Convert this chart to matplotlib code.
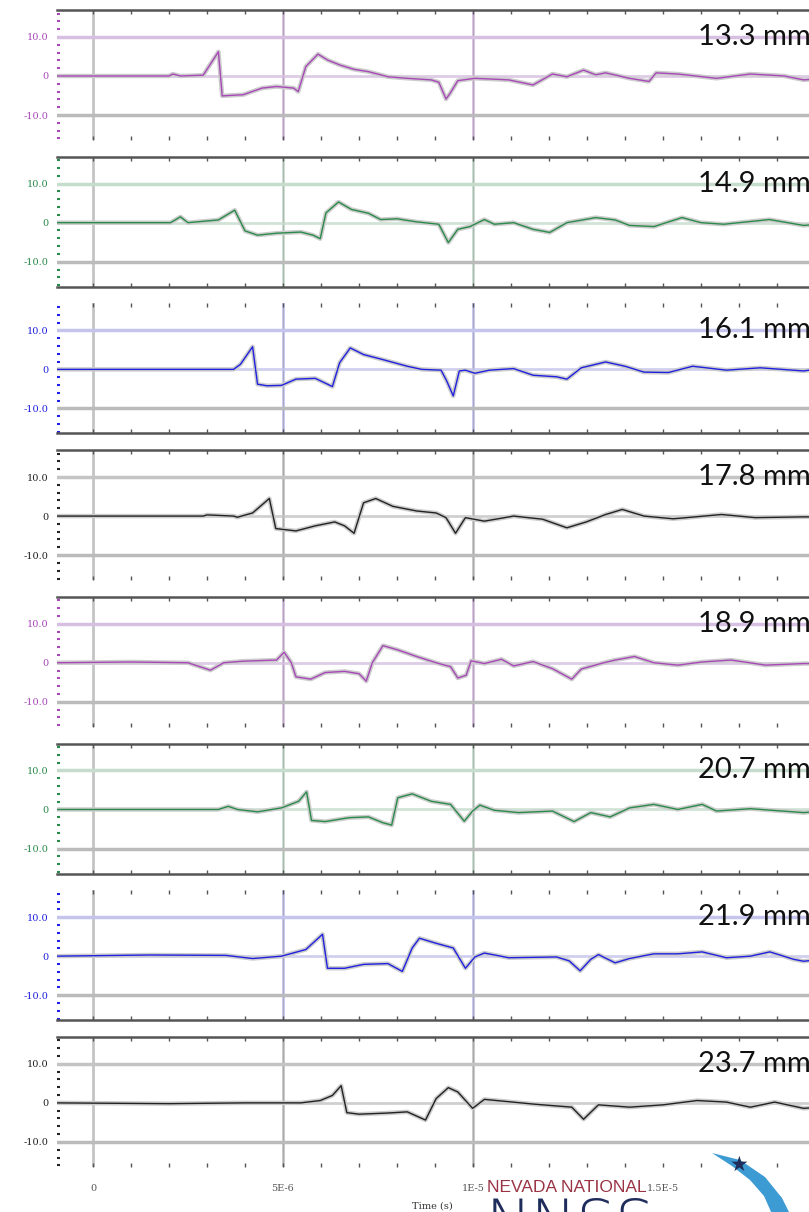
import numpy as np
import matplotlib.pyplot as plt
from matplotlib.patches import Polygon

# time in microseconds, signal in arbitrary units
labels = ['13.3 mm', '14.9 mm', '16.1 mm', '17.8 mm', '18.9 mm', '20.7 mm', '21.9 mm', '23.7 mm']

t1 = [-1.0, 2.0, 2.1, 2.3, 2.9, 3.3, 3.4, 3.95, 4.45, 4.83, 5.28, 5.4, 5.6, 5.92, 6.17, 6.5, 6.87, 7.25, 7.76,
      8.27, 8.9, 9.1, 9.29, 9.4, 9.6, 10.05, 10.94, 11.58, 12.09, 12.47, 12.91, 13.23, 13.49, 14.12, 14.63,
      14.82, 15.39, 16.41, 17.3, 18.19, 18.7, 19.0]
v1 = [0.0, 0.0, 0.5, 0.0, 0.2, 6.2, -5.1, -4.8, -3.1, -2.7, -3.1, -4.0, 2.4, 5.6, 4.1, 2.8, 1.7, 1.1, -0.2,
      -0.6, -1.0, -1.6, -5.9, -4.4, -1.2, -0.6, -1.0, -2.3, 0.5, -0.2, 1.5, 0.3, 0.8, -0.6, -1.4,
      0.8, 0.5, -0.6, 0.5, 0.0, -1.0, -0.8]

t2 = [-1.0, 2.04, 2.3, 2.5, 3.3, 3.73, 4.0, 4.33, 4.83, 5.47, 5.79, 5.98, 6.13, 6.46, 6.8, 7.25, 7.57, 8.0,
      8.52, 9.1, 9.35, 9.6, 9.92, 10.3, 10.56, 11.07, 11.58, 12.02, 12.47, 13.23, 13.74, 14.12, 14.76, 15.5,
      16.0, 16.6, 17.8, 18.7, 19.0]
v2 = [0.0, 0.0, 1.5, 0.0, 0.7, 3.2, -2.1, -3.2, -2.7, -2.4, -3.2, -4.1, 2.5, 5.3, 3.4, 2.4, 0.8, 1.0,
      0.2, -0.4, -5.1, -1.7, -1.0, 0.8, -0.4, 0.0, -1.7, -2.5, 0.0, 1.3, 0.7, -0.7, -1.0, 1.3,
      0.0, -0.4, 0.8, -0.7, -0.5]

t3 = [-1.0, 3.7, 3.88, 4.2, 4.33, 4.58, 4.96, 5.34, 5.85, 6.3, 6.49, 6.77, 7.12, 7.63, 8.27, 8.65, 9.16,
      9.31, 9.48, 9.64, 9.8, 10.05, 10.43, 11.07, 11.58, 12.2, 12.47, 12.85, 13.49, 14.0, 14.5, 15.14,
      15.78, 16.67, 17.56, 18.7, 19.0]
v3 = [0.0, 0.0, 1.3, 5.8, -3.8, -4.2, -4.1, -2.5, -2.3, -4.4, 1.7, 5.5, 3.8, 2.5, 0.8, 0.0, -0.2,
      -3.0, -6.8, -0.4, -0.2, -1.0, -0.2, 0.2, -1.5, -1.9, -2.5, 0.4, 1.9, 0.8, -0.7, -0.8,
      0.8, -0.2, 0.4, -0.4, 0.0]

t4 = [-1.0, 2.9, 3.0, 3.7, 3.8, 4.2, 4.64, 4.81, 5.34, 5.85, 6.36, 6.62, 6.87, 7.12, 7.44, 7.89, 8.52,
      9.03, 9.29, 9.54, 9.8, 10.3, 11.07, 11.83, 12.47, 12.98, 13.49, 13.93, 14.5, 15.27, 16.54, 17.43,
      18.7, 19.0]
v4 = [0.0, 0.0, 0.3, 0.0, -0.3, 0.8, 4.5, -3.2, -3.8, -2.5, -1.5, -2.5, -4.4, 3.4, 4.5, 2.5, 1.3,
      0.8, -0.4, -4.4, -0.4, -1.3, 0.0, -0.8, -3.0, -1.5, 0.4, 1.7, 0.0, -0.7, 0.4, -0.4,
      -0.2, -0.2]

t5 = [-1.0, 1.0, 2.5, 3.09, 3.44, 3.94, 4.83, 5.03, 5.22, 5.34, 5.73, 6.11, 6.62, 7.0, 7.19, 7.35, 7.63,
      8.02, 8.52, 9.03, 9.41, 9.6, 9.82, 9.95, 10.3, 10.75, 11.07, 11.58, 12.09, 12.6, 12.85, 13.36, 13.74,
      14.25, 14.76, 15.39, 16.03, 16.79, 17.7, 18.7, 19.0]
v5 = [0.0, 0.2, 0.0, -1.9, 0.0, 0.4, 0.7, 2.7, 0.0, -3.6, -4.2, -2.5, -2.2, -2.8, -4.7, 0.0, 4.4,
      3.3, 1.6, 0.0, -1.0, -3.9, -3.2, 0.5, -0.2, 0.9, -0.8, 0.3, -1.5, -4.2, -1.6, -0.2, 0.7,
      1.6, 0.0, -0.6, 0.2, 0.7, -0.6, -0.2, -0.2]

t6 = [-1.0, 3.3, 3.56, 3.8, 4.33, 4.96, 5.41, 5.62, 5.75, 6.11, 6.74, 7.25, 7.63, 7.86, 8.02, 8.4, 8.9,
      9.41, 9.77, 9.99, 10.18, 10.56, 11.2, 12.09, 12.66, 13.1, 13.61, 14.12, 14.76, 15.39, 16.03, 16.41,
      17.3, 18.7, 19.0]
v6 = [0.0, 0.0, 0.8, 0.0, -0.6, 0.4, 2.1, 4.5, -2.8, -3.1, -2.1, -1.9, -3.4, -4.0, 3.0, 4.0, 2.1,
      1.3, -3.0, -0.4, 1.1, -0.2, -0.8, -0.4, -3.1, -0.8, -1.9, 0.4, 1.3, 0.0, 1.3, -0.4,
      0.2, -0.8, -0.6]

t7 = [-1.0, 1.5, 3.5, 4.2, 4.96, 5.6, 6.04, 6.17, 6.62, 7.12, 7.76, 8.14, 8.4, 8.59, 9.03, 9.48, 9.8,
      10.05, 10.3, 10.94, 12.2, 12.53, 12.82, 13.1, 13.3, 13.74, 14.12, 14.76, 15.39, 16.03, 16.67, 17.3,
      17.81, 18.44, 18.7, 19.0]
v7 = [0.0, 0.3, 0.2, -0.6, 0.0, 1.7, 5.6, -3.1, -3.1, -2.1, -1.9, -3.9, 2.1, 4.6, 3.3, 2.1, -3.1,
      -0.2, 0.8, -0.4, -0.2, -1.2, -3.75, -0.8, 0.4, -1.7, -0.6, 0.6, 0.6, 1.1, -0.4, 0.0,
      1.1, -0.8, -1.3, -1.0]

t8 = [-1.0, 2.0, 4.0, 5.47, 5.98, 6.3, 6.53, 6.68, 7.0, 7.76, 8.27, 8.75, 9.03, 9.35, 9.6, 9.99, 10.3,
      10.94, 11.58, 12.6, 12.91, 13.3, 14.12, 15.0, 15.9, 16.67, 17.3, 17.94, 18.7, 19.0]
v8 = [0.0, -0.2, 0.0, 0.0, 0.6, 1.9, 4.4, -2.5, -2.9, -2.6, -2.3, -4.4, 1.1, 3.9, 2.8, -1.4, 0.9,
      0.3, -0.3, -1.1, -4.2, -0.5, -1.1, -0.5, 0.6, 0.2, -1.1, 0.2, -1.4, -1.2]

times = [t1, t2, t3, t4, t5, t6, t7, t8]
signals = [v1, v2, v3, v4, v5, v6, v7, v8]

# panel styling
line_colors = ['#a848b8', '#2a8a4a', '#2020e0', '#222222'] * 2
tint_colors = ['#d6bfe0', '#c6dccd', '#c4c4ec', '#c4c4c4'] * 2
show_top = [True, True, False, True, True, True, False, True]
show_bottom = [False, True, True, False, False, True, True, False]

W, H = 809, 1212
fig = plt.figure(figsize=(W / 100, H / 100), dpi=100)

left_px, right_px = 57, 809
panel_h, stride, top0 = 130, 146.7, 10
x0 = (left_px - 93) / 38 * 1e-6
x1 = (right_px - 93) / 38 * 1e-6

for i in range(8):
    top = top0 + i * stride
    ax = fig.add_axes([left_px / W, 1 - (top + panel_h) / H, (right_px - left_px) / W, panel_h / H])
    c, tint = line_colors[i], tint_colors[i]
    t = np.array(times[i]) * 1e-6
    v = np.array(signals[i])

    # grid lines
    ax.axvline(0, color='#c4c4c4', lw=2, zorder=0)
    for xv in (5e-6, 1e-5):
        ax.axvline(xv, color=tint, lw=2, zorder=0)
        ax.axvline(xv, color='#888888', lw=0.6, alpha=0.5, zorder=0)
    ax.axhline(10, color=tint, lw=2.5, zorder=0)
    ax.axhline(-10, color='#bbbbbb', lw=2.5, zorder=0)
    ax.axhline(0, color=tint, lw=2, alpha=0.8, zorder=0)

    ax.plot(t, v, color='#cccccc', lw=3.2, solid_joinstyle='round', zorder=2)
    ax.plot(t, v, color=c, lw=1.0, zorder=3)

    ax.set_xlim(x0, x1)
    ax.set_ylim(-16.4, 16.9)

    for side in ('left', 'right'):
        ax.spines[side].set_visible(False)
    ax.spines['top'].set_visible(show_top[i])
    ax.spines['bottom'].set_visible(show_bottom[i])
    ax.spines['top'].set_color('#555555')
    ax.spines['bottom'].set_color('#555555')
    ax.spines['top'].set_linewidth(1.8)
    ax.spines['bottom'].set_linewidth(1.8)

    ax.set_xticks(np.arange(0, 19) * 1e-6)
    ax.tick_params(axis='x', which='both', direction='in', top=True, bottom=True,
                   length=3, width=1, color='#555555', labelbottom=False)
    ax.set_yticks([-10, 0, 10])
    ax.set_yticklabels(['-10.0', '0', '10.0'], family='DejaVu Serif', fontsize=7, color=c)
    ax.set_yticks(np.arange(-16, 17, 2), minor=True)
    ax.tick_params(axis='y', which='major', length=0, pad=6)
    ax.tick_params(axis='y', which='minor', direction='in', length=2.5, width=1.5, color=c)

    ax.text(690 / W, 10, labels[i], transform=ax.get_yaxis_transform(), fontsize=21,
            family='Lato', color='#111111', ha='left', va='center', zorder=5, clip_on=False)

    if i == 7:
        for xv, lab in zip([0, 5e-6, 1e-5, 1.5e-5], ['0', '5E-6', '1E-5', '1.5E-5']):
            ax.text(xv, -22, lab, ha='center', va='center', fontsize=7,
                    family='DejaVu Serif', color='#555555', clip_on=False)

fig.text(432 / W, 1 - 1206 / H, 'Time (s)', fontsize=7, family='DejaVu Serif',
         color='#333333', ha='center', va='center')

# NNSS logo pieces along the bottom edge
fig.text(487 / W, 1 - 1187 / H, 'NEVADA NATIONAL', fontsize=12.5, family='Liberation Sans',
         color='#9a3444', ha='left', va='center')
fig.text(486 / W, 1 - 1197 / H, 'NNSS', fontsize=44, family='DejaVu Sans', fontweight='light',
         color='#1f2d5c', ha='left', va='top')
outer = [(712, 1153), (740, 1160), (765, 1177), (782, 1198), (790, 1214)]
inner = [(772, 1214), (764, 1196), (750, 1180), (732, 1166), (712, 1153)]
pts = [(x / W, 1 - y / H) for x, y in outer + inner]
fig.patches.append(Polygon(pts, closed=True, transform=fig.transFigure, facecolor='#3d9bd3',
                           edgecolor='none'))
fig.text(739 / W, 1 - 1165 / H, '\u2605', fontsize=15, color='#1f2d5c', ha='center', va='center')

fig.savefig('out.png', dpi=100)
